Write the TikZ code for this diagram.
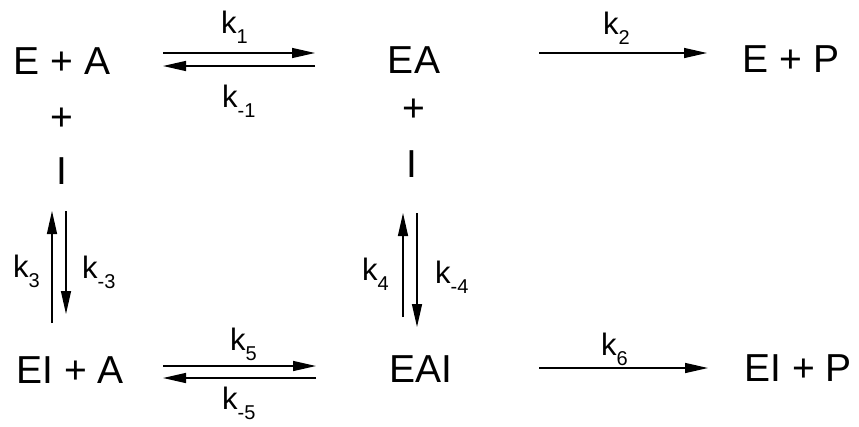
\documentclass[tikz,border=0pt]{standalone}
\usepackage{fontspec}
\setmainfont{Liberation Sans}
\usetikzlibrary{arrows.meta}
\newcommand\kk[1]{k\raisebox{-10pt}{\fontsize{20}{21}\selectfont #1}}
\tikzset{
  species/.style={inner sep=0pt, anchor=base, font=\fontsize{39}{44}\selectfont},
  rate/.style={inner sep=0pt, anchor=base west, font=\fontsize{31}{34}\selectfont},
  rx/.style={line width=1.4pt, -{Triangle[length=23pt,width=10pt]}}
}
\begin{document}
\begin{tikzpicture}[x=1pt,y=-1pt]
\useasboundingbox (0,0) rectangle (859,426);
% species
\node[species] (EA0) at (62,74) {E + A};
\node[species] (p1) at (62,130) {+};
\node[species] (I1) at (62,184) {I};
\node[species] (EA) at (414,73) {EA};
\node[species] (p2) at (414,121) {+};
\node[species] (I2) at (412,177) {I};
\node[species] (EP) at (791,72) {E + P};
\node[species] (EIA) at (70,383) {EI + A};
\node[species] (EAI) at (421,382) {EAI};
\node[species] (EIP) at (798,381) {EI + P};
% rate constants
\node[rate] (k1) at (221,33) {\kk{1}};
\node[rate] (km1) at (222,107) {\kk{-1}};
\node[rate] (k2) at (603,34) {\kk{2}};
\node[rate] (k3) at (13,277) {\kk{3}};
\node[rate] (km3) at (82,278) {\kk{-3}};
\node[rate] (k4) at (362,280) {\kk{4}};
\node[rate] (km4) at (435,283) {\kk{-4}};
\node[rate] (k5) at (230,350) {\kk{5}};
\node[rate] (km5) at (222,409) {\kk{-5}};
\node[rate] (k6) at (601,355) {\kk{6}};
% arrow end points
\coordinate (a1s) at (163,53); \coordinate (a1e) at (315,53);
\coordinate (b1s) at (315,66); \coordinate (b1e) at (163,66);
\coordinate (a2s) at (539,53); \coordinate (a2e) at (707,53);
\coordinate (a5s) at (163,366); \coordinate (a5e) at (316,366);
\coordinate (b5s) at (316,378); \coordinate (b5e) at (163,378);
\coordinate (a6s) at (539,368); \coordinate (a6e) at (708,368);
\coordinate (u3s) at (52,323); \coordinate (u3e) at (52,211);
\coordinate (d3s) at (66,211); \coordinate (d3e) at (66,314);
\coordinate (u4s) at (403,317); \coordinate (u4e) at (403,213);
\coordinate (d4s) at (417,213); \coordinate (d4e) at (417,327);
% arrows
\draw[rx] (a1s) -- (a1e);
\draw[rx] (b1s) -- (b1e);
\draw[rx] (a2s) -- (a2e);
\draw[rx] (a5s) -- (a5e);
\draw[rx] (b5s) -- (b5e);
\draw[rx] (a6s) -- (a6e);
\draw[rx] (u3s) -- (u3e);
\draw[rx] (d3s) -- (d3e);
\draw[rx] (u4s) -- (u4e);
\draw[rx] (d4s) -- (d4e);
\end{tikzpicture}
\end{document}
